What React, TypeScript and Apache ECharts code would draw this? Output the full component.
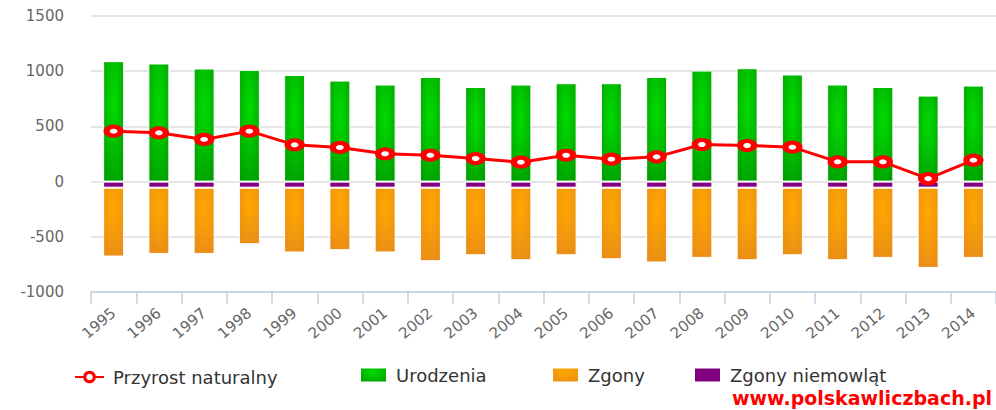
import React, { useEffect, useRef } from 'react';
import * as echarts from 'echarts';

const years = ['1995', '1996', '1997', '1998', '1999', '2000', '2001', '2002', '2003', '2004', '2005', '2006', '2007', '2008', '2009', '2010', '2011', '2012', '2013', '2014'];
const urodzenia = [1091, 1070, 1024, 1012, 966, 915, 879, 948, 857, 879, 891, 891, 948, 1006, 1027, 970, 879, 857, 779, 870];
const przyrost = [457, 442, 382, 457, 333, 309, 252, 239, 209, 176, 239, 203, 224, 336, 327, 312, 179, 179, 27, 194];
const zgonyNiemowlat = [-55, -55, -55, -55, -55, -55, -55, -55, -55, -55, -55, -55, -55, -55, -55, -55, -55, -55, -55, -55];
const zgony = [-624, -600, -600, -512, -587, -566, -587, -666, -612, -657, -612, -648, -678, -636, -657, -612, -657, -636, -727, -636];
const yTicks = { min: -1000, max: 1500, interval: 500 };

const FONT = 'DejaVu Sans';

export default function App() {
  const ref = useRef<HTMLDivElement>(null);
  useEffect(() => {
    const chart = echarts.init(ref.current!, null, { renderer: 'svg' });
    const legendText = { color: '#333333', fontSize: 18, fontFamily: FONT, padding: [0, 0, 0, 4] };
    chart.setOption({
      animation: false,
      backgroundColor: '#ffffff',
      grid: { left: 91, right: 0, top: 16, bottom: 118, containLabel: false },
      xAxis: {
        type: 'category',
        data: years,
        boundaryGap: true,
        axisLine: { onZero: false, lineStyle: { color: '#c0d0e0', width: 1.5 } },
        axisTick: { show: true, length: 12, lineStyle: { color: '#c0d0e0', width: 1.5 } },
        axisLabel: { rotate: 40, margin: 19, color: '#666666', fontSize: 15, fontFamily: FONT, interval: 0 },
        splitLine: { show: false },
      },
      yAxis: {
        type: 'value',
        min: yTicks.min,
        max: yTicks.max,
        interval: yTicks.interval,
        axisLine: { show: false },
        axisTick: { show: false },
        axisLabel: { margin: 27, color: '#666666', fontSize: 15, fontFamily: FONT, formatter: (v: number) => String(v) },
        splitLine: { lineStyle: { color: '#dcdcdc', width: 1.5 } },
      },
      legend: [
        {
          data: ['Przyrost naturalny'], left: 74, top: 368, padding: 0, itemWidth: 29, itemHeight: 12,
          textStyle: legendText, itemStyle: { borderWidth: 3 },
        },
        { data: ['Urodzenia'], left: 359, top: 366, padding: 0, itemWidth: 27, itemHeight: 15, icon: 'rect', textStyle: legendText },
        { data: ['Zgony'], left: 551, top: 366, padding: 0, itemWidth: 27, itemHeight: 15, icon: 'rect', textStyle: legendText },
        { data: ['Zgony niemowląt'], left: 693, top: 366, padding: 0, itemWidth: 27, itemHeight: 15, icon: 'rect', textStyle: legendText },
      ],
      graphic: [
        {
          type: 'text', right: 4, top: 388,
          style: { text: 'www.polskawliczbach.pl', font: 'bold 19px "DejaVu Sans"', fill: '#ff0000' },
        },
      ],
      series: [
        {
          name: 'Urodzenia', type: 'bar', stack: 'a', data: urodzenia, barWidth: 21,
          itemStyle: {
            color: {
              type: 'radial', x: 0.5, y: 0.35, r: 0.8,
              colorStops: [{ offset: 0, color: '#00dc00' }, { offset: 1, color: '#009a00' }],
            },
            borderColor: '#ffffff', borderWidth: 1,
          },
        },
        {
          name: 'Zgony niemowląt', type: 'bar', stack: 'a', data: zgonyNiemowlat, barWidth: 21,
          itemStyle: { color: '#800080', borderColor: '#ffffff', borderWidth: 1 },
        },
        {
          name: 'Zgony', type: 'bar', stack: 'a', data: zgony, barWidth: 21,
          itemStyle: {
            color: {
              type: 'radial', x: 0.5, y: 0.3, r: 0.8,
              colorStops: [{ offset: 0, color: '#ffa800' }, { offset: 1, color: '#e88c18' }],
            },
            borderColor: '#ffffff', borderWidth: 1,
          },
        },
        {
          name: 'Przyrost naturalny', type: 'line', data: przyrost, z: 5,
          symbol: 'circle', symbolSize: [14, 9], showSymbol: true,
          lineStyle: { color: '#ff0000', width: 3 },
          itemStyle: { color: '#ffffff', borderColor: '#ff0000', borderWidth: 5 },
        },
      ],
    });
    return () => chart.dispose();
  }, []);
  return <div ref={ref} style={{ position: 'fixed', left: 0, top: 0, width: 996, height: 410 }} />;
}
